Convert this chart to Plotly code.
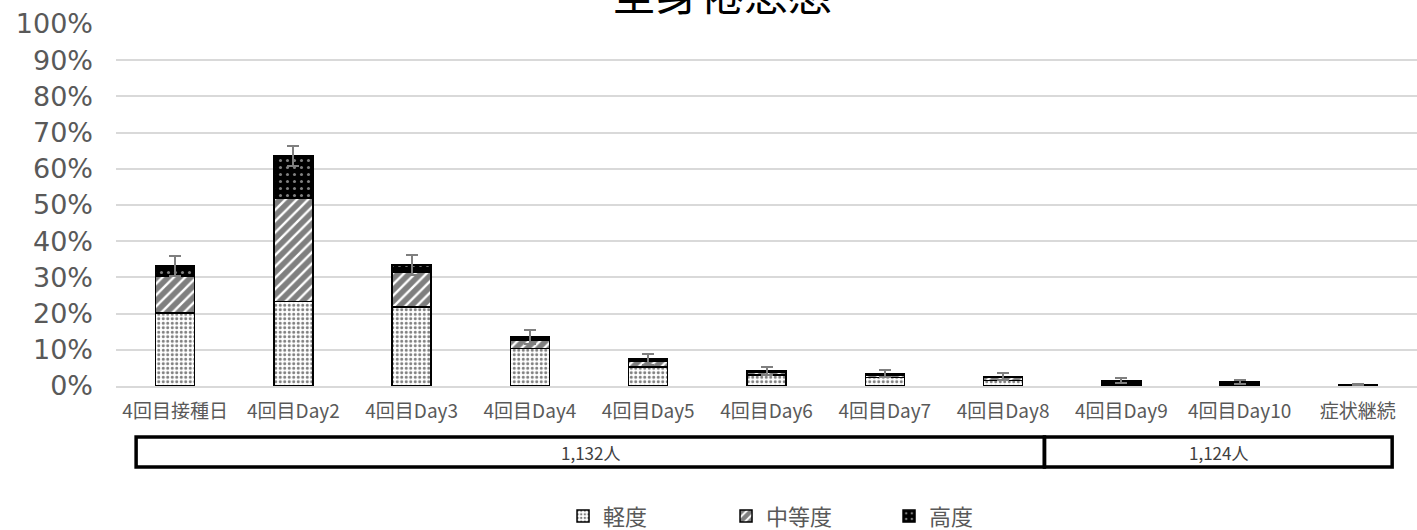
import plotly.graph_objects as go

categories = ["4回目接種日", "4回目Day2", "4回目Day3", "4回目Day4", "4回目Day5", "4回目Day6",
              "4回目Day7", "4回目Day8", "4回目Day9", "4回目Day10", "症状継続"]
mild = [0.202, 0.233, 0.218, 0.103, 0.053, 0.030, 0.023, 0.015, 0.006, 0.005, 0.003]
moderate = [0.102, 0.286, 0.097, 0.024, 0.016, 0.007, 0.007, 0.008, 0.005, 0.004, 0.001]
severe = [0.027, 0.116, 0.019, 0.008, 0.005, 0.004, 0.004, 0.003, 0.003, 0.002, 0.000]
err = [0.028, 0.028, 0.028, 0.020, 0.015, 0.011, 0.009, 0.009, 0.007, 0.006, 0.002]
series_names = ["軽度", "中等度", "高度"]
tick_vals = [i / 10 for i in range(11)]
tick_text = [f"{i * 10}%" for i in range(11)]
group_labels = ["1,132人", "1,124人"]

FONT = "Noto Sans CJK JP"
GRAY = "#595959"

fig = go.Figure()
fig.add_bar(x=categories, y=mild, name=series_names[0],
            marker=dict(color="white", line=dict(color="black", width=1.5),
                        pattern=dict(shape=".", fgcolor="black", bgcolor="white", size=4.5, solidity=0.35)))
fig.add_bar(x=categories, y=moderate, name=series_names[1],
            marker=dict(color="white", line=dict(color="black", width=1.5),
                        pattern=dict(shape="/", fgcolor="black", bgcolor="white", size=8, solidity=0.7)))
fig.add_bar(x=categories, y=severe, name=series_names[2],
            marker=dict(color="black", line=dict(color="black", width=1.5),
                        pattern=dict(shape=".", fgcolor="white", bgcolor="black", size=7, solidity=0.15)),
            error_y=dict(type="data", array=err, visible=True, color="#7f7f7f", thickness=2, width=6))

fig.update_layout(
    barmode="stack",
    bargap=0.67,
    width=1417, height=530,
    margin=dict(l=116, r=0, t=24, b=144, autoexpand=False),
    plot_bgcolor="white", paper_bgcolor="white",
    font=dict(family=FONT, color=GRAY),
    showlegend=True,
    legend=dict(orientation="h", x=0.3436, xanchor="left", y=-0.36, yanchor="middle",
                font=dict(size=22, color=GRAY, family=FONT),
                entrywidth=118, entrywidthmode="pixels", traceorder="normal"),
)
fig.update_yaxes(range=[0, 1], tickvals=tick_vals, ticktext=tick_text, automargin=False,
                 tickfont=dict(size=27, color=GRAY, family="DejaVu Sans"), ticklabelstandoff=22,
                 showgrid=True, gridcolor="#d9d9d9", gridwidth=1.5, zeroline=False,
                 showline=False, ticks="", ticklen=0)
fig.update_xaxes(tickfont=dict(size=19, color=GRAY, family=FONT), showline=True, automargin=False,
                 ticklabelstandoff=7, linecolor="#d9d9d9", linewidth=1.5, ticks="")

# title (partially clipped at top like the reference)
fig.add_annotation(text="全身倦怠感", xref="paper", yref="paper", x=0.466, y=1.088,
                   xanchor="center", yanchor="middle", showarrow=False,
                   font=dict(size=44, color="black", family=FONT))

# group boxes below the axis
x_left, x_div, x_right = -0.33, 7.35, 10.29
y_top, y_bot = (386 - 437) / 362, (386 - 467) / 362
for x0, x1 in [(x_left, x_div), (x_div, x_right)]:
    fig.add_shape(type="rect", xref="x", yref="paper", x0=x0, x1=x1, y0=y_bot, y1=y_top,
                  line=dict(color="black", width=3.5), fillcolor="rgba(0,0,0,0)")
for (x0, x1), lab in zip([(x_left, x_div), (x_div, x_right)], group_labels):
    fig.add_annotation(text=lab, xref="x", yref="paper", x=(x0 + x1) / 2,
                       y=(y_top + y_bot) / 2, yanchor="middle",
                       showarrow=False, font=dict(size=17, color="#404040", family=FONT))

fig.write_html("out.html", config={"displayModeBar": False},
               post_script="document.body.style.margin='0';")
